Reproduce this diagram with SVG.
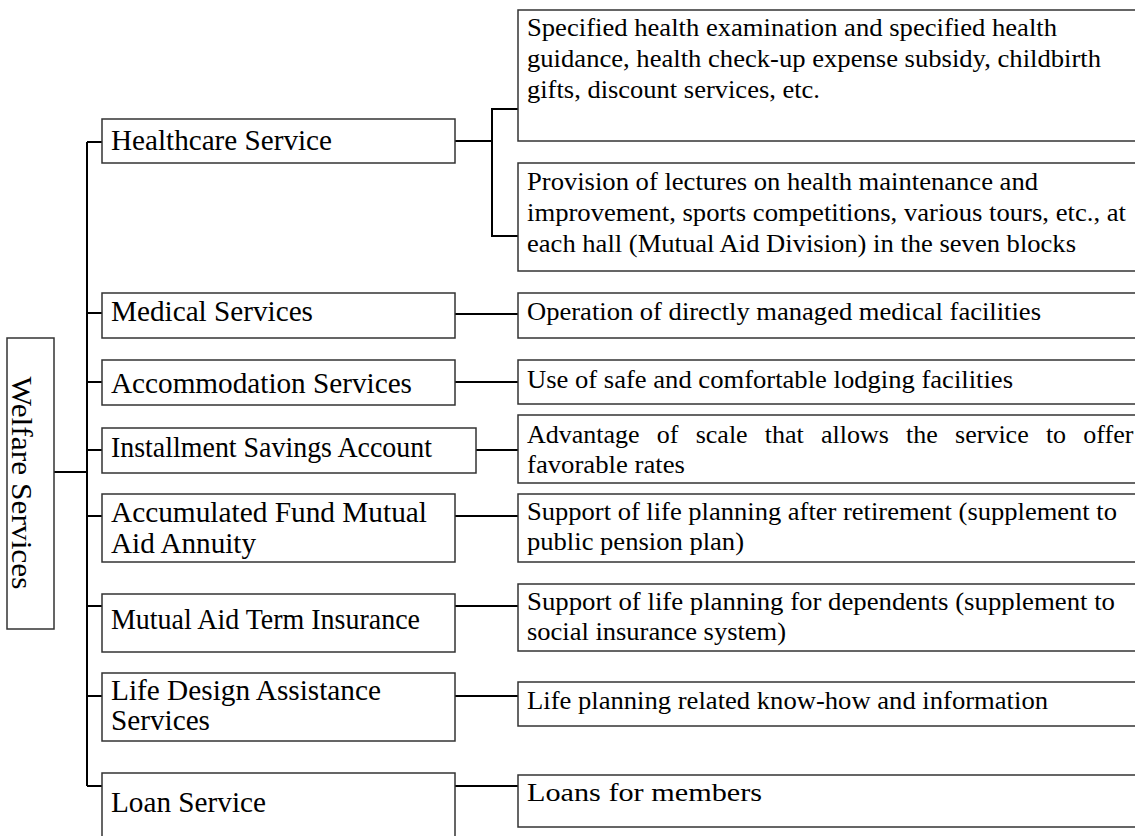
<svg xmlns="http://www.w3.org/2000/svg" width="1135" height="836" viewBox="0 0 1135 836">
<style>
.box{fill:#fff;stroke:#333;stroke-width:1.5}
.t{font-family:"Liberation Serif","Times New Roman",serif;fill:#000;font-size:28.5px}
.r{font-family:"Liberation Serif","Times New Roman",serif;fill:#000;font-size:26px}
.c{fill:none;stroke:#000;stroke-width:2}
</style>
<rect width="1135" height="836" fill="#fff"/>
<g id="connectors">
<path class="c" d="M54 472H87M87 142V786M87 142H102M87 313H102M87 382H102M87 450H102M87 516H102M87 606H102M87 696H102M87 786H102"/>
<path class="c" d="M455 141H492M518 109H492V236H518"/>
<path class="c" d="M455 314H518M455 382H518M476 450H518M455 516H518M455 606H518M455 696H518M455 786H518"/>
</g>
<g id="welfare">
<rect class="box" x="7" y="338" width="47" height="291"/>
<text class="t" font-size="32" transform="translate(12 483) rotate(90)" text-anchor="middle" textLength="213" lengthAdjust="spacingAndGlyphs">Welfare Services</text>
</g>
<g id="healthcare">
<rect class="box" x="102" y="119" width="353" height="44"/>
<text class="t" x="111" y="150" textLength="221" lengthAdjust="spacingAndGlyphs">Healthcare Service</text>
</g>
<g id="medical">
<rect class="box" x="102" y="293" width="353" height="45"/>
<text class="t" x="111" y="321" textLength="202" lengthAdjust="spacingAndGlyphs">Medical Services</text>
</g>
<g id="accommodation">
<rect class="box" x="102" y="360" width="353" height="45"/>
<text class="t" x="111" y="393" textLength="301" lengthAdjust="spacingAndGlyphs">Accommodation Services</text>
</g>
<g id="installment">
<rect class="box" x="102" y="428" width="374" height="45"/>
<text class="t" x="111" y="457" textLength="321" lengthAdjust="spacingAndGlyphs">Installment Savings Account</text>
</g>
<g id="accumulated">
<rect class="box" x="102" y="494" width="353" height="68"/>
<text class="t" x="111" y="522" textLength="316" lengthAdjust="spacingAndGlyphs">Accumulated Fund Mutual</text>
<text class="t" x="111" y="553" textLength="145" lengthAdjust="spacingAndGlyphs">Aid Annuity</text>
</g>
<g id="term">
<rect class="box" x="102" y="594" width="353" height="58"/>
<text class="t" x="111" y="629" textLength="309" lengthAdjust="spacingAndGlyphs">Mutual Aid Term Insurance</text>
</g>
<g id="lifedesign">
<rect class="box" x="102" y="673" width="353" height="68"/>
<text class="t" x="111" y="700" textLength="270" lengthAdjust="spacingAndGlyphs">Life Design Assistance</text>
<text class="t" x="111" y="730" textLength="99" lengthAdjust="spacingAndGlyphs">Services</text>
</g>
<g id="loan">
<rect class="box" x="102" y="773" width="353" height="80"/>
<text class="t" x="111" y="812" textLength="155" lengthAdjust="spacingAndGlyphs">Loan Service</text>
</g>
<g id="d-health1">
<rect class="box" x="518" y="10" width="700" height="131"/>
<text class="r" x="527" y="36" textLength="530" lengthAdjust="spacingAndGlyphs">Specified health examination and specified health</text>
<text class="r" x="527" y="67" textLength="574" lengthAdjust="spacingAndGlyphs">guidance, health check-up expense subsidy, childbirth</text>
<text class="r" x="527" y="98" textLength="293" lengthAdjust="spacingAndGlyphs">gifts, discount services, etc.</text>
</g>
<g id="d-health2">
<rect class="box" x="518" y="163" width="700" height="108"/>
<text class="r" x="527" y="190" textLength="511" lengthAdjust="spacingAndGlyphs">Provision of lectures on health maintenance and</text>
<text class="r" x="527" y="221" textLength="599" lengthAdjust="spacingAndGlyphs">improvement, sports competitions, various tours, etc., at</text>
<text class="r" x="527" y="252" textLength="549" lengthAdjust="spacingAndGlyphs">each hall (Mutual Aid Division) in the seven blocks</text>
</g>
<g id="d-medical">
<rect class="box" x="518" y="293" width="700" height="45"/>
<text class="r" x="527" y="320" textLength="514" lengthAdjust="spacingAndGlyphs">Operation of directly managed medical facilities</text>
</g>
<g id="d-accommodation">
<rect class="box" x="518" y="360" width="700" height="44"/>
<text class="r" x="527" y="388" textLength="486" lengthAdjust="spacingAndGlyphs">Use of safe and comfortable lodging facilities</text>
</g>
<g id="d-installment">
<rect class="box" x="518" y="415" width="700" height="68"/>
<text class="r" x="527" y="443" word-spacing="10.7">Advantage of scale that allows the service to offer</text>
<text class="r" x="527" y="473" textLength="158" lengthAdjust="spacingAndGlyphs">favorable rates</text>
</g>
<g id="d-accumulated">
<rect class="box" x="518" y="494" width="700" height="68"/>
<text class="r" x="527" y="520" textLength="590" lengthAdjust="spacingAndGlyphs">Support of life planning after retirement (supplement to</text>
<text class="r" x="527" y="550" textLength="217" lengthAdjust="spacingAndGlyphs">public pension plan)</text>
</g>
<g id="d-term">
<rect class="box" x="518" y="584" width="700" height="67"/>
<text class="r" x="527" y="610" textLength="588" lengthAdjust="spacingAndGlyphs">Support of life planning for dependents (supplement to</text>
<text class="r" x="527" y="640" textLength="259" lengthAdjust="spacingAndGlyphs">social insurance system)</text>
</g>
<g id="d-lifedesign">
<rect class="box" x="518" y="682" width="700" height="44"/>
<text class="r" x="527" y="709" textLength="521" lengthAdjust="spacingAndGlyphs">Life planning related know-how and information</text>
</g>
<g id="d-loan">
<rect class="box" x="518" y="775" width="700" height="52"/>
<text class="r" x="527" y="801" textLength="235" lengthAdjust="spacingAndGlyphs">Loans for members</text>
</g>
</svg>
